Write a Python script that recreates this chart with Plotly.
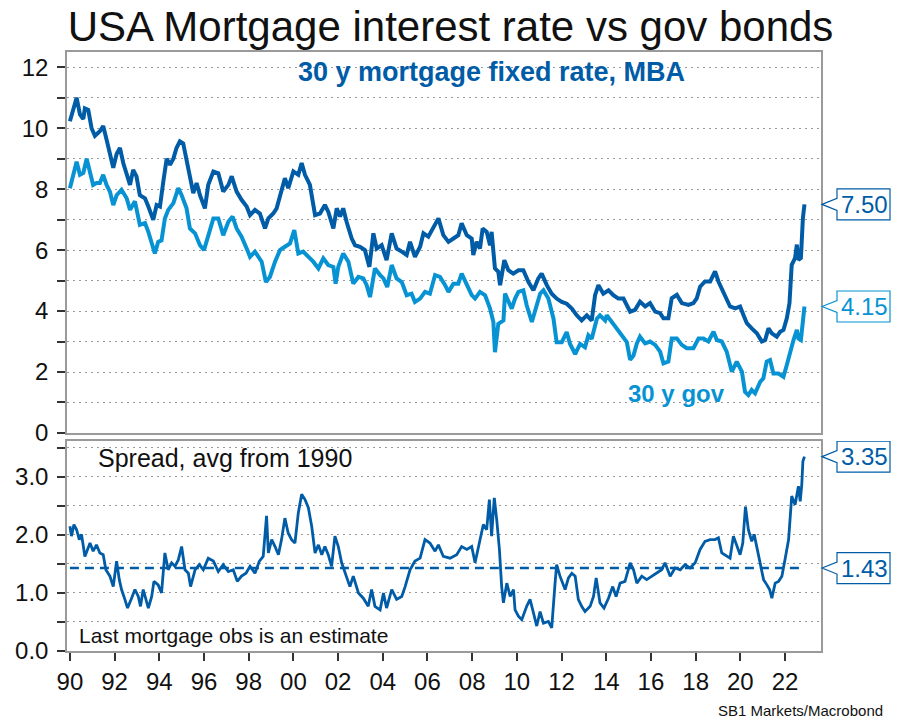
import plotly.graph_objects as go

# ---------------- data ----------------
mort_years = [1990.00, 1990.15, 1990.30, 1990.45, 1990.60, 1990.67, 1990.82, 1990.97, 1991.12, 1991.34,
              1991.49, 1991.64, 1991.79, 1991.94, 1992.09, 1992.24, 1992.39, 1992.54, 1992.69, 1992.83,
              1992.98, 1993.13, 1993.36, 1993.51, 1993.73, 1993.88, 1994.03, 1994.18, 1994.33, 1994.48,
              1994.63, 1994.77, 1994.92, 1995.07, 1995.22, 1995.37, 1995.52, 1995.67, 1995.82, 1996.04,
              1996.19, 1996.42, 1996.64, 1996.86, 1997.09, 1997.24, 1997.46, 1997.68, 1997.91, 1998.06,
              1998.28, 1998.50, 1998.73, 1998.88, 1999.10, 1999.25, 1999.47, 1999.62, 1999.77, 2000.00,
              2000.22, 2000.37, 2000.52, 2000.74, 2000.97, 2001.19, 2001.41, 2001.56, 2001.79, 2001.94,
              2002.09, 2002.23, 2002.38, 2002.61, 2002.76, 2002.98, 2003.20, 2003.40, 2003.58, 2003.73,
              2003.95, 2004.17, 2004.40, 2004.62, 2004.85, 2005.07, 2005.22, 2005.44, 2005.67, 2005.82,
              2006.04, 2006.26, 2006.49, 2006.71, 2006.94, 2007.16, 2007.38, 2007.53, 2007.76, 2007.98,
              2008.05, 2008.20, 2008.35, 2008.47, 2008.65, 2008.80, 2008.87, 2009.02, 2009.17, 2009.25,
              2009.44, 2009.62, 2009.84, 2010.07, 2010.29, 2010.52, 2010.74, 2010.96, 2011.11, 2011.34,
              2011.56, 2011.78, 2012.01, 2012.23, 2012.46, 2012.68, 2012.90, 2013.13, 2013.35, 2013.50,
              2013.65, 2013.87, 2014.10, 2014.32, 2014.54, 2014.77, 2014.99, 2015.07, 2015.29, 2015.51,
              2015.74, 2015.96, 2016.19, 2016.41, 2016.56, 2016.78, 2016.93, 2017.16, 2017.38, 2017.68,
              2017.90, 2018.05, 2018.20, 2018.42, 2018.65, 2018.87, 2019.02, 2019.24, 2019.39, 2019.54,
              2019.77, 2019.99, 2020.14, 2020.29, 2020.51, 2020.74, 2020.96, 2021.11, 2021.26, 2021.41,
              2021.63, 2021.78, 2021.93, 2022.08, 2022.20, 2022.30, 2022.45, 2022.53, 2022.60, 2022.71,
              2022.80, 2022.87]
mort_rate = [10.23, 10.60, 11.00, 10.45, 10.30, 10.65, 10.60, 10.00, 9.75, 9.90,
             10.07, 9.63, 9.20, 8.70, 9.15, 9.35, 8.85, 8.47, 8.14, 8.63,
             8.42, 7.80, 7.70, 7.43, 6.99, 7.48, 7.43, 8.25, 9.00, 8.80,
             9.00, 9.35, 9.57, 9.50, 8.97, 8.37, 7.87, 8.20, 7.80, 7.37,
             8.14, 8.58, 8.52, 7.92, 8.14, 8.42, 7.92, 7.65, 7.43, 7.15,
             7.32, 7.20, 6.71, 7.04, 7.20, 7.37, 8.03, 8.36, 8.03, 8.58,
             8.47, 8.86, 8.47, 8.14, 7.15, 7.20, 7.48, 7.26, 6.71, 7.37,
             7.10, 7.37, 6.93, 6.38, 6.16, 6.11, 6.00, 5.45, 6.55, 6.05,
             6.16, 5.67, 6.55, 6.05, 5.95, 5.84, 6.27, 5.78, 6.11, 6.55,
             6.44, 6.71, 7.04, 6.49, 6.27, 6.38, 6.49, 6.88, 6.49, 6.38,
             5.84, 6.27, 6.05, 6.71, 6.60, 6.16, 6.60, 5.40, 5.29, 4.85,
             5.67, 5.34, 5.23, 5.34, 5.34, 4.95, 4.68, 5.07, 5.23, 4.85,
             4.57, 4.41, 4.30, 4.24, 4.08, 3.86, 3.69, 3.86, 3.69, 4.52,
             4.85, 4.57, 4.68, 4.52, 4.41, 4.41, 4.13, 3.98, 4.04, 4.31,
             4.15, 4.26, 3.98, 3.93, 3.76, 3.76, 4.42, 4.53, 4.26, 4.20,
             4.26, 4.42, 4.80, 4.97, 4.97, 5.30, 4.97, 4.64, 4.42, 4.15,
             4.09, 4.15, 3.87, 3.60, 3.43, 3.27, 3.00, 3.05, 3.43, 3.27,
             3.16, 3.32, 3.38, 3.76, 4.26, 5.52, 5.74, 6.18, 5.68, 5.74,
             7.05, 7.50]

gov_years = [1990.00, 1990.15, 1990.30, 1990.45, 1990.60, 1990.75, 1990.90, 1991.04, 1991.19, 1991.34,
             1991.49, 1991.64, 1991.79, 1991.94, 1992.09, 1992.31, 1992.54, 1992.69, 1992.91, 1993.13,
             1993.36, 1993.51, 1993.80, 1993.95, 1994.10, 1994.25, 1994.40, 1994.63, 1994.85, 1995.00,
             1995.22, 1995.37, 1995.60, 1995.82, 1996.00, 1996.19, 1996.42, 1996.64, 1996.86, 1997.09,
             1997.28, 1997.46, 1997.68, 1997.91, 1998.06, 1998.28, 1998.58, 1998.77, 1998.95, 1999.18,
             1999.40, 1999.62, 1999.85, 2000.04, 2000.22, 2000.44, 2000.67, 2000.89, 2001.12, 2001.34,
             2001.56, 2001.79, 2001.89, 2002.01, 2002.23, 2002.46, 2002.68, 2002.91, 2003.13, 2003.28,
             2003.43, 2003.65, 2003.88, 2004.03, 2004.20, 2004.40, 2004.62, 2004.85, 2005.07, 2005.29,
             2005.44, 2005.67, 2005.89, 2006.11, 2006.34, 2006.56, 2006.79, 2006.94, 2007.16, 2007.38,
             2007.53, 2007.76, 2007.98, 2008.13, 2008.35, 2008.58, 2008.80, 2008.95, 2009.02, 2009.17,
             2009.40, 2009.47, 2009.62, 2009.77, 2009.92, 2010.07, 2010.29, 2010.44, 2010.67, 2010.81,
             2011.04, 2011.19, 2011.41, 2011.64, 2011.78, 2012.01, 2012.23, 2012.38, 2012.61, 2012.83,
             2013.05, 2013.20, 2013.35, 2013.58, 2013.72, 2013.95, 2014.02, 2014.25, 2014.47, 2014.69,
             2014.92, 2015.07, 2015.22, 2015.37, 2015.51, 2015.74, 2015.96, 2016.19, 2016.41, 2016.56,
             2016.78, 2016.93, 2017.16, 2017.38, 2017.60, 2017.90, 2018.13, 2018.35, 2018.57, 2018.80,
             2018.95, 2019.17, 2019.39, 2019.62, 2019.84, 2020.07, 2020.21, 2020.36, 2020.51, 2020.66,
             2020.89, 2021.03, 2021.18, 2021.33, 2021.48, 2021.71, 2021.93, 2022.08, 2022.23, 2022.38,
             2022.53, 2022.60, 2022.71, 2022.80, 2022.87]
gov_rate = [8.03, 8.53, 8.90, 8.47, 8.53, 9.00, 8.53, 8.14, 8.20, 8.20,
            8.47, 8.14, 7.92, 7.48, 7.80, 7.98, 7.70, 7.32, 7.60, 6.83,
            6.89, 6.60, 5.89, 6.27, 6.32, 7.04, 7.32, 7.54, 8.03, 7.80,
            7.37, 6.71, 6.55, 6.16, 6.00, 6.49, 7.04, 7.04, 6.49, 6.93,
            7.10, 6.71, 6.44, 6.05, 5.78, 5.95, 5.62, 4.95, 5.12, 5.62,
            6.00, 6.11, 6.22, 6.66, 5.89, 5.95, 5.78, 5.62, 5.40, 5.73,
            5.51, 5.45, 4.90, 5.45, 5.89, 5.62, 4.90, 5.12, 5.07, 4.85,
            4.46, 5.40, 5.18, 5.07, 4.79, 5.51, 5.07, 4.95, 4.52, 4.57,
            4.30, 4.41, 4.63, 4.57, 5.18, 5.12, 4.85, 4.63, 4.90, 4.90,
            5.23, 4.90, 4.52, 4.41, 4.63, 4.52, 4.08, 3.64, 2.65, 3.58,
            3.69, 4.57, 4.35, 4.08, 4.41, 4.63, 4.68, 4.19, 3.64, 3.97,
            4.57, 4.68, 4.41, 3.75, 2.98, 2.98, 3.31, 2.92, 2.59, 2.92,
            2.81, 3.20, 3.09, 3.75, 3.86, 3.69, 3.86, 3.64, 3.42, 3.25,
            2.98, 2.40, 2.54, 2.94, 3.16, 2.94, 3.00, 2.89, 2.67, 2.28,
            2.34, 3.10, 3.10, 2.89, 2.78, 2.78, 3.10, 3.10, 3.00, 3.32,
            3.05, 3.00, 2.67, 2.01, 2.34, 2.01, 1.35, 1.24, 1.41, 1.30,
            1.68, 1.79, 2.34, 2.39, 1.95, 1.95, 1.84, 2.23, 2.67, 3.05,
            3.38, 3.10, 3.05, 3.76, 4.15]

spread_years = [1990.00, 1990.07, 1990.18, 1990.30, 1990.42, 1990.52, 1990.67, 1990.78, 1990.90, 1991.04,
                1991.19, 1991.34, 1991.49, 1991.61, 1991.79, 1991.94, 1992.09, 1992.21, 1992.31, 1992.46,
                1992.58, 1992.76, 1992.91, 1993.06, 1993.16, 1993.28, 1993.51, 1993.66, 1993.76, 1993.95,
                1994.10, 1994.25, 1994.40, 1994.55, 1994.70, 1994.85, 1995.00, 1995.15, 1995.30, 1995.40,
                1995.60, 1995.79, 1995.97, 1996.19, 1996.42, 1996.64, 1996.86, 1997.09, 1997.31, 1997.49,
                1997.68, 1997.88, 1998.06, 1998.28, 1998.48, 1998.65, 1998.80, 1998.88, 1999.03, 1999.18,
                1999.33, 1999.47, 1999.62, 1999.77, 1999.92, 2000.07, 2000.22, 2000.37, 2000.52, 2000.67,
                2000.82, 2000.97, 2001.12, 2001.27, 2001.41, 2001.56, 2001.71, 2001.86, 2002.01, 2002.16,
                2002.31, 2002.53, 2002.68, 2002.91, 2003.13, 2003.35, 2003.50, 2003.65, 2003.88, 2004.03,
                2004.17, 2004.40, 2004.62, 2004.85, 2005.00, 2005.22, 2005.44, 2005.67, 2005.89, 2006.11,
                2006.34, 2006.49, 2006.71, 2007.01, 2007.31, 2007.53, 2007.76, 2007.98, 2008.13, 2008.35,
                2008.50, 2008.65, 2008.77, 2008.87, 2008.99, 2009.10, 2009.22, 2009.32, 2009.40, 2009.55,
                2009.70, 2009.85, 2009.92, 2010.07, 2010.22, 2010.44, 2010.59, 2010.71, 2010.89, 2011.04,
                2011.19, 2011.41, 2011.56, 2011.71, 2011.78, 2011.93, 2012.16, 2012.31, 2012.46, 2012.61,
                2012.75, 2012.90, 2013.05, 2013.28, 2013.43, 2013.55, 2013.72, 2013.90, 2014.10, 2014.29,
                2014.44, 2014.62, 2014.84, 2015.07, 2015.22, 2015.37, 2015.59, 2015.81, 2016.04, 2016.26,
                2016.48, 2016.63, 2016.86, 2017.08, 2017.31, 2017.53, 2017.75, 2017.98, 2018.20, 2018.42,
                2018.65, 2018.87, 2019.02, 2019.17, 2019.39, 2019.54, 2019.69, 2019.84, 2019.99, 2020.11,
                2020.23, 2020.36, 2020.51, 2020.62, 2020.74, 2020.89, 2021.04, 2021.19, 2021.31, 2021.41,
                2021.56, 2021.71, 2021.86, 2022.01, 2022.16, 2022.30, 2022.45, 2022.60, 2022.68, 2022.75,
                2022.80, 2022.87]
spread = [2.15, 1.98, 2.18, 2.09, 1.92, 2.01, 1.63, 1.75, 1.86, 1.72,
          1.83, 1.69, 1.66, 1.40, 1.29, 1.11, 1.55, 1.23, 1.06, 0.89,
          0.74, 0.91, 1.06, 0.94, 0.77, 1.06, 0.74, 0.94, 1.20, 1.14,
          1.00, 1.69, 1.40, 1.52, 1.46, 1.57, 1.80, 1.40, 1.34, 1.11,
          1.40, 1.49, 1.40, 1.60, 1.55, 1.37, 1.49, 1.37, 1.40, 1.20,
          1.29, 1.34, 1.46, 1.34, 1.55, 1.63, 2.33, 1.69, 1.92, 1.80,
          1.66, 1.92, 2.29, 2.03, 1.92, 1.86, 2.38, 2.70, 2.61, 2.47,
          2.15, 1.69, 1.83, 1.66, 1.80, 1.66, 1.46, 1.98, 1.80, 1.52,
          1.34, 1.11, 1.29, 1.00, 0.91, 0.77, 1.06, 0.77, 0.71, 1.00,
          0.74, 1.06, 0.89, 0.94, 1.11, 1.40, 1.55, 1.60, 1.92, 1.86,
          1.72, 1.83, 1.63, 1.60, 1.66, 1.80, 1.75, 1.80, 1.52, 1.92,
          2.18, 2.09, 2.61, 1.98, 2.64, 2.26, 1.75, 1.11, 0.83, 1.17,
          0.94, 1.06, 0.71, 0.60, 0.54, 0.77, 0.89, 0.71, 0.43, 0.68,
          0.48, 0.51, 0.40, 1.17, 1.49, 1.29, 1.06, 1.26, 1.34, 1.29,
          0.89, 0.77, 0.68, 0.77, 0.94, 1.26, 0.83, 0.74, 0.91, 1.11,
          0.94, 1.17, 1.20, 1.52, 1.40, 1.17, 1.29, 1.23, 1.29, 1.34,
          1.40, 1.52, 1.29, 1.43, 1.40, 1.49, 1.43, 1.52, 1.75, 1.89,
          1.92, 1.92, 1.95, 1.69, 1.63, 1.60, 1.98, 1.83, 1.66, 1.86,
          2.49, 2.09, 1.89, 2.01, 1.80, 1.52, 1.23, 1.14, 1.06, 0.91,
          1.17, 1.20, 1.29, 1.60, 1.92, 2.67, 2.52, 2.84, 2.58, 2.87,
          3.27, 3.35]
spread_avg = 1.43

x_tick_years = list(range(1990, 2023, 2))
x_tick_labels = [str(y)[2:] for y in x_tick_years]
top_ticks = list(range(0, 13))
top_labels = [str(v) if v % 2 == 0 else "" for v in top_ticks]
bot_ticks = [0, 0.5, 1.0, 1.5, 2.0, 2.5, 3.0, 3.5]
bot_labels = ["0.0", "", "1.0", "", "2.0", "", "3.0", ""]

# ---------------- styling ----------------
DARK = "#005ca6"
LIGHT = "#0793d3"
FRAME = "#9a9a9a"
GRID = "#9a9a9a"
FONT = "Arial, Liberation Sans, sans-serif"

fig = go.Figure()
fig.add_trace(go.Scatter(x=gov_years, y=gov_rate, mode="lines", xaxis="x", yaxis="y",
                         line=dict(color=LIGHT, width=4), name="30 y gov"))
fig.add_trace(go.Scatter(x=mort_years, y=mort_rate, mode="lines", xaxis="x", yaxis="y",
                         line=dict(color=DARK, width=4), name="30 y mortgage"))
fig.add_trace(go.Scatter(x=[spread_years[0], spread_years[-1]], y=[spread_avg, spread_avg],
                         mode="lines", xaxis="x2", yaxis="y2",
                         line=dict(color=DARK, width=2.5, dash="9px,6px"), name="avg"))
fig.add_trace(go.Scatter(x=spread_years, y=spread, mode="lines", xaxis="x2", yaxis="y2",
                         line=dict(color=DARK, width=2.8), name="spread"))

xr = [1989.87, 2023.61]
top_r = [0, 12.5]
bot_r = [0, 3.62]
top_dom = [0.364, 1.0]
bot_dom = [0.0, 0.3506]

common_y = dict(showline=True, linecolor=FRAME, linewidth=1.5, ticks="outside", ticklen=8,
                tickwidth=1.5, tickcolor="#333333", tickfont=dict(size=24, color="#111111", family=FONT),
                zeroline=False)

fig.update_layout(
    width=901, height=722,
    margin=dict(l=67, r=80, t=52, b=71),
    paper_bgcolor="white", plot_bgcolor="white",
    showlegend=False,
    font=dict(family=FONT),
    title=dict(text="USA Mortgage interest rate vs gov bonds", x=0.5, xanchor="center", xref="container",
               y=1 - 26 / 722, yanchor="middle", yref="container",
               font=dict(size=42, color="#111111", family=FONT)),
    xaxis=dict(domain=[0, 1], anchor="y", range=xr, showline=True, mirror=True, linecolor=FRAME,
               linewidth=1.5, showgrid=False, showticklabels=False, ticks="", zeroline=False),
    yaxis=dict(domain=top_dom, anchor="x", range=top_r, tickmode="array", tickvals=top_ticks,
               ticktext=top_labels, showgrid=True, gridcolor=GRID, gridwidth=1, griddash="2px,4px",
               mirror=True, ticklabelstandoff=4, **common_y),
    yaxis3=dict(overlaying="y", side="right", anchor="x", range=top_r, tickmode="array",
                tickvals=top_ticks, ticktext=top_labels, showgrid=False, ticklabelstandoff=6, **common_y),
    xaxis2=dict(domain=[0, 1], anchor="y2", range=xr, matches="x", showline=True, mirror=True,
                linecolor=FRAME, linewidth=1.5, showgrid=False, tickmode="array", tickvals=x_tick_years,
                ticktext=x_tick_labels, ticks="outside", ticklen=8, tickwidth=1.5, tickcolor="#333333",
                tickfont=dict(size=24, color="#111111", family=FONT), zeroline=False),
    yaxis2=dict(domain=bot_dom, anchor="x2", range=bot_r, tickmode="array", tickvals=bot_ticks,
                ticktext=bot_labels, showgrid=True, gridcolor=GRID, gridwidth=1, griddash="2px,4px",
                mirror=True, ticklabelstandoff=4, **common_y),
    yaxis4=dict(overlaying="y2", side="right", anchor="x2", range=bot_r, tickmode="array",
                tickvals=bot_ticks, ticktext=bot_labels, showgrid=False, ticklabelstandoff=6, **common_y),
)

# ---------------- text annotations ----------------
ann = [
    dict(text="<b>30 y mortgage fixed rate, MBA</b>", x=0.563, y=0.9666, font=dict(size=27, color=DARK)),
    dict(text="<b>30 y gov</b>", x=0.809, y=0.4307, font=dict(size=24, color=LIGHT)),
    dict(text="Spread, avg from 1990", x=0.0385, y=0.3222, xanchor="left", font=dict(size=25, color="#111111")),
    dict(text="Last mortgage obs is an estimate", x=0.0133, y=0.0267, xanchor="left",
         font=dict(size=21, color="#111111")),
    dict(text="SB1 Markets/Macrobond", x=1.085, y=-0.100, xanchor="right", font=dict(size=15, color="#111111")),
]
for a in ann:
    base = dict(xref="paper", yref="paper", showarrow=False, xanchor="center", yanchor="middle")
    base.update(a)
    base["font"] = dict(family=FONT, **a["font"])
    fig.add_annotation(**base)

# ---------------- value callouts on the right axis ----------------
callouts = [
    (mort_rate[-1], "y", DARK),
    (gov_rate[-1], "y", LIGHT),
    (spread[-1], "y2", DARK),
    (spread_avg, "y2", DARK),
]
for val, yref, col in callouts:
    fig.add_shape(type="path", xref="paper", yref=yref, xsizemode="pixel", ysizemode="pixel",
                  xanchor=1, yanchor=val,
                  path="M 1,0 L 16,6 L 16,15.5 L 69,15.5 L 69,-15.5 L 16,-15.5 L 16,-6 Z",
                  fillcolor="white", line=dict(color=col, width=1.2), layer="above")
    fig.add_annotation(text=f"{val:.2f}", xref="paper", yref=yref, x=1, y=val, xanchor="center",
                       yanchor="middle", xshift=43, showarrow=False,
                       font=dict(size=24, color=col, family=FONT))

fig.write_html("out.html", config={"displayModeBar": False},
               post_script="document.body.style.margin='0';document.body.style.padding='0';"
                           "document.documentElement.style.overflow='hidden';")
